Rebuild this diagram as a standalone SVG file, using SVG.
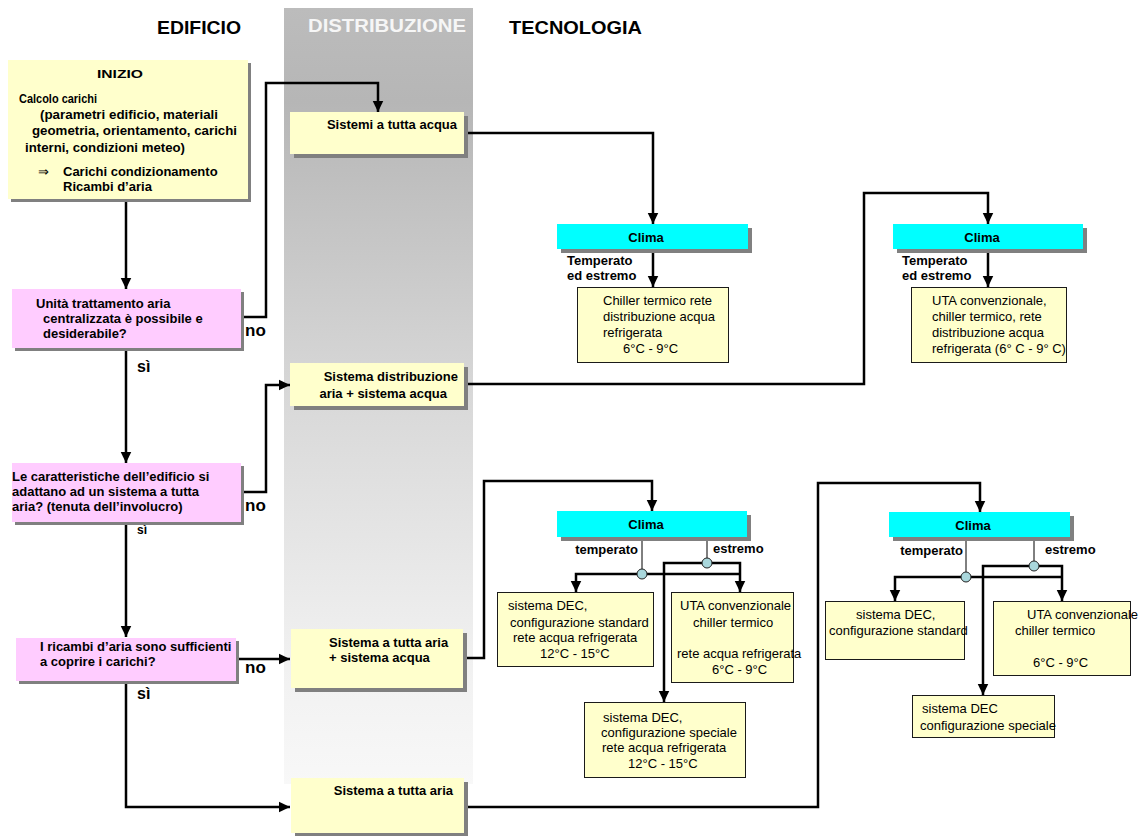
<svg xmlns="http://www.w3.org/2000/svg" width="1146" height="836" viewBox="0 0 1146 836">
<defs>
  <linearGradient id="band" x1="0" y1="0" x2="0" y2="1">
    <stop offset="0" stop-color="#bcbcbc"/>
    <stop offset="0.12" stop-color="#b6b6b6"/>
    <stop offset="0.5" stop-color="#d8d8d8"/>
    <stop offset="0.83" stop-color="#f0f0f0"/>
    <stop offset="1" stop-color="#f8f8f8"/>
  </linearGradient>
  <marker id="arr" markerUnits="userSpaceOnUse" markerWidth="12" markerHeight="12" viewBox="0 0 12 12" refX="11.5" refY="6" orient="auto">
    <path d="M0,0.5 L11.5,6 L0,11.5 z" fill="#000"/>
  </marker>
  <style>
    text { font-family: "Liberation Sans", Arial, sans-serif; fill: #000; }
    .hd { font-size: 19px; font-weight: bold; }
    .b { font-size: 13px; font-weight: bold; }
    .n { font-size: 13px; }
    .lb { font-size: 17px; font-weight: bold; }
    .sh { fill: #808080; }
    .yel { fill: #ffffcc; }
    .pink { fill: #ffccff; }
    .cyan { fill: #00ffff; }
    .tb { fill: #ffffcc; stroke: #1a1a1a; stroke-width: 1; }
    .ln { fill: none; stroke: #000; stroke-width: 2.5; }
    .thin { fill: none; stroke: #000; stroke-width: 1; }
    .dot { fill: #a9d7dc; stroke: #222; stroke-width: 1; }
  </style>
</defs>

<!-- distribution column band -->
<rect x="284" y="8" width="189" height="776" fill="url(#band)"/>

<!-- column headers -->
<text class="hd" x="157" y="34" textLength="84" lengthAdjust="spacingAndGlyphs">EDIFICIO</text>
<text class="hd" x="308" y="32" textLength="158" lengthAdjust="spacingAndGlyphs" style="fill:#f6f6f6">DISTRIBUZIONE</text>
<text class="hd" x="509" y="34" textLength="133" lengthAdjust="spacingAndGlyphs">TECNOLOGIA</text>

<!-- connectors -->
<g id="connectors">
  <path class="ln" d="M126,199 V289" marker-end="url(#arr)"/>
  <path class="ln" d="M126,348 V463" marker-end="url(#arr)"/>
  <path class="ln" d="M126,522 V637" marker-end="url(#arr)"/>
  <path class="ln" d="M126,681 V807 H290" marker-end="url(#arr)"/>
  <path class="ln" d="M241,317 H266 V83 H378 V112" marker-end="url(#arr)"/>
  <path class="ln" d="M241,492 H266 V385 H290" marker-end="url(#arr)"/>
  <path class="ln" d="M236,659 H290" marker-end="url(#arr)"/>
  <path class="ln" d="M464,133 H653 V224" marker-end="url(#arr)"/>
  <path class="ln" d="M464,384 H864 V193 H988 V224" marker-end="url(#arr)"/>
  <path class="ln" d="M463,658 H484 V481 H652 V511" marker-end="url(#arr)"/>
  <path class="ln" d="M464,807 H818 V483 H980 V512" marker-end="url(#arr)"/>
  <path class="ln" d="M653,249 V287" marker-end="url(#arr)"/>
  <path class="ln" d="M988,249 V287" marker-end="url(#arr)"/>

  <!-- climate branches, middle -->
  <path class="thin" d="M642,537 V569"/>
  <path class="thin" d="M707,537 V558"/>
  <path class="ln" d="M642,574 H576 V592" marker-end="url(#arr)"/>
  <path class="ln" d="M642,574 H740"/>
  <path class="ln" d="M707,563 H740 V592" marker-end="url(#arr)"/>
  <path class="ln" d="M707,563 H664 V702" marker-end="url(#arr)"/>
  <circle class="dot" cx="642" cy="574" r="5"/>
  <circle class="dot" cx="707" cy="563" r="5"/>

  <!-- climate branches, right -->
  <path class="thin" d="M966,537 V572"/>
  <path class="thin" d="M1034,537 V561"/>
  <path class="ln" d="M966,577 H895 V601" marker-end="url(#arr)"/>
  <path class="ln" d="M966,577 H1062"/>
  <path class="ln" d="M1034,566 H1062 V601" marker-end="url(#arr)"/>
  <path class="ln" d="M1034,566 H983 V695" marker-end="url(#arr)"/>
  <circle class="dot" cx="966" cy="577" r="5"/>
  <circle class="dot" cx="1034" cy="566" r="5"/>
</g>

<!-- branch labels -->
<g id="labels">
  <text class="lb" x="245" y="336">no</text>
  <text class="lb" x="137" y="372" style="font-size:16px">sì</text>
  <text class="lb" x="245" y="511">no</text>
  <text class="b" x="137" y="534" style="font-size:12px">sì</text>
  <text class="lb" x="245" y="673">no</text>
  <text class="lb" x="137" y="699" style="font-size:16px">sì</text>
</g>

<!-- building column -->
<g id="inizio">
  <rect class="sh" x="11" y="63" width="240" height="139"/>
  <rect class="yel" x="8" y="60" width="240" height="139"/>
  <text class="b" x="97" y="78" textLength="46" lengthAdjust="spacingAndGlyphs" style="font-size:11px">INIZIO</text>
  <text class="b" x="19" y="103" textLength="78" lengthAdjust="spacingAndGlyphs" style="font-size:12.5px">Calcolo carichi</text>
  <text class="b" x="40" y="119" textLength="178" lengthAdjust="spacingAndGlyphs">(parametri edificio, materiali</text>
  <text class="b" x="32" y="135" textLength="205" lengthAdjust="spacingAndGlyphs">geometria, orientamento, carichi</text>
  <text class="b" x="25" y="152" textLength="160" lengthAdjust="spacingAndGlyphs">interni, condizioni meteo)</text>
  <text class="n" x="38" y="176">⇒</text>
  <text class="b" x="63" y="176">Carichi condizionamento</text>
  <text class="b" x="63" y="191">Ricambi d’aria</text>
</g>

<g id="q-uta">
  <rect class="sh" x="15" y="292" width="229" height="59"/>
  <rect class="pink" x="12" y="289" width="229" height="59"/>
  <text class="b" x="36" y="307.5">Unità trattamento aria</text>
  <text class="b" x="43" y="323">centralizzata è possibile e</text>
  <text class="b" x="43" y="338">desiderabile?</text>
</g>

<g id="q-edificio">
  <rect class="sh" x="15" y="466" width="229" height="59"/>
  <rect class="pink" x="12" y="463" width="229" height="59"/>
  <text class="b" x="12" y="481">Le caratteristiche dell’edificio si</text>
  <text class="b" x="12" y="496">adattano ad un sistema a tutta</text>
  <text class="b" x="12" y="511">aria? (tenuta dell’involucro)</text>
</g>

<g id="q-ricambi">
  <rect class="sh" x="19" y="641" width="220" height="43"/>
  <rect class="pink" x="16" y="638" width="220" height="43"/>
  <text class="b" x="40" y="651">I ricambi d’aria sono sufficienti</text>
  <text class="b" x="40" y="665.5">a coprire i carichi?</text>
</g>

<!-- distribution column -->
<g id="d-acqua">
  <rect class="sh" x="294" y="116" width="174" height="42"/>
  <rect class="yel" x="290" y="112" width="174" height="42"/>
  <text class="b" x="457" y="129" text-anchor="end">Sistemi a tutta acqua</text>
</g>

<g id="d-aria-acqua">
  <rect class="sh" x="294" y="367" width="174" height="43"/>
  <rect class="yel" x="290" y="363" width="174" height="43"/>
  <text class="b" x="458" y="381" text-anchor="end">Sistema distribuzione</text>
  <text class="b" x="447" y="397.5" text-anchor="end">aria + sistema acqua</text>
</g>

<g id="d-tutta-aria-acqua">
  <rect class="sh" x="295" y="633" width="172" height="59"/>
  <rect class="yel" x="291" y="629" width="172" height="59"/>
  <text class="b" x="329" y="646.5">Sistema a tutta aria</text>
  <text class="b" x="329" y="662">+ sistema acqua</text>
</g>

<g id="d-tutta-aria">
  <rect class="sh" x="295" y="782" width="173" height="55"/>
  <rect class="yel" x="291" y="778" width="173" height="55"/>
  <text class="b" x="453" y="795" text-anchor="end">Sistema a tutta aria</text>
</g>

<!-- technology column: water systems -->
<g id="clima-1">
  <rect class="sh" x="561" y="228" width="191" height="25"/>
  <rect class="cyan" x="557" y="224" width="191" height="25"/>
  <text class="b" x="646" y="241.5" text-anchor="middle">Clima</text>
  <text class="b" x="567" y="265">Temperato</text>
  <text class="b" x="567" y="280">ed estremo</text>
</g>
<g id="t-chiller">
  <rect class="tb" x="577.5" y="287.5" width="151" height="75"/>
  <text class="n" x="603" y="305">Chiller termico rete</text>
  <text class="n" x="603" y="321">distribuzione acqua</text>
  <text class="n" x="603" y="337">refrigerata</text>
  <text class="n" x="623" y="353">6°C - 9°C</text>
</g>

<g id="clima-2">
  <rect class="sh" x="897" y="228" width="190" height="25"/>
  <rect class="cyan" x="893" y="224" width="190" height="25"/>
  <text class="b" x="982" y="241.5" text-anchor="middle">Clima</text>
  <text class="b" x="902" y="265">Temperato</text>
  <text class="b" x="902" y="280">ed estremo</text>
</g>
<g id="t-uta-chiller">
  <rect class="tb" x="911.5" y="287.5" width="155" height="75"/>
  <text class="n" x="932" y="305">UTA convenzionale,</text>
  <text class="n" x="932" y="321">chiller termico, rete</text>
  <text class="n" x="932" y="337">distribuzione acqua</text>
  <text class="n" x="932" y="353">refrigerata (6° C - 9° C)</text>
</g>

<!-- technology column: air + water -->
<g id="clima-3">
  <rect class="sh" x="561" y="515" width="190" height="26"/>
  <rect class="cyan" x="557" y="511" width="190" height="26"/>
  <text class="b" x="646" y="528.5" text-anchor="middle">Clima</text>
  <text class="b" x="638" y="554" text-anchor="end">temperato</text>
  <text class="b" x="713" y="553">estremo</text>
</g>
<g id="t-dec-std-1">
  <rect class="tb" x="497.5" y="592.5" width="156" height="74"/>
  <text class="n" x="508" y="610">sistema DEC,</text>
  <text class="n" x="510" y="626.5">configurazione standard</text>
  <text class="n" x="513" y="642">rete acqua refrigerata</text>
  <text class="n" x="540" y="658">12°C - 15°C</text>
</g>
<g id="t-uta-1">
  <rect class="tb" x="671.5" y="592.5" width="122" height="90"/>
  <text class="n" x="680" y="610">UTA convenzionale</text>
  <text class="n" x="693" y="626.5">chiller termico</text>
  <text class="n" x="677" y="657.5">rete acqua refrigerata</text>
  <text class="n" x="712" y="673.5">6°C - 9°C</text>
</g>
<g id="t-dec-spec-1">
  <rect class="tb" x="584.5" y="702.5" width="161" height="75"/>
  <text class="n" x="603" y="722">sistema DEC,</text>
  <text class="n" x="601" y="737">configurazione speciale</text>
  <text class="n" x="602" y="752">rete acqua refrigerata</text>
  <text class="n" x="628" y="767.5">12°C - 15°C</text>
</g>

<!-- technology column: all air -->
<g id="clima-4">
  <rect class="sh" x="893" y="516" width="181" height="25"/>
  <rect class="cyan" x="889" y="512" width="181" height="25"/>
  <text class="b" x="973" y="529.5" text-anchor="middle">Clima</text>
  <text class="b" x="963" y="555" text-anchor="end">temperato</text>
  <text class="b" x="1045" y="554">estremo</text>
</g>
<g id="t-dec-std-2">
  <rect class="tb" x="825.5" y="601.5" width="139" height="58"/>
  <text class="n" x="856" y="618.5">sistema DEC,</text>
  <text class="n" x="829" y="635">configurazione standard</text>
</g>
<g id="t-uta-2">
  <rect class="tb" x="993.5" y="601.5" width="137" height="74"/>
  <text class="n" x="1027" y="618.5">UTA convenzionale</text>
  <text class="n" x="1015" y="635">chiller termico</text>
  <text class="n" x="1033" y="667">6°C - 9°C</text>
</g>
<g id="t-dec-spec-2">
  <rect class="tb" x="912.5" y="695.5" width="142" height="42"/>
  <text class="n" x="922" y="713">sistema DEC</text>
  <text class="n" x="920" y="730">configurazione speciale</text>
</g>
</svg>
